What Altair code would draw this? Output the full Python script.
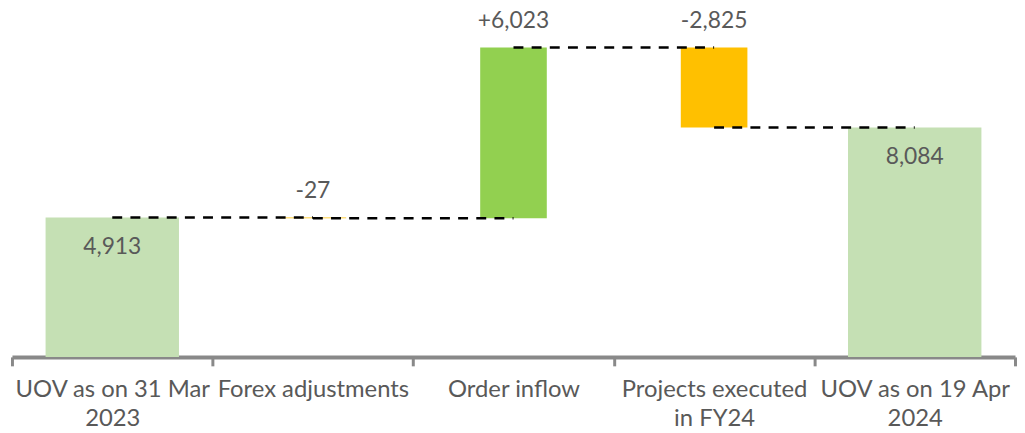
import altair as alt
import pandas as pd

categories = ["UOV as on 31 Mar|2023", "Forex adjustments", "Order inflow",
              "Projects executed|in FY24", "UOV as on 19 Apr|2024"]
values = [4913, -27, 6023, -2825, 8084]
kinds = ["total", "decrease", "increase", "decrease", "total"]
value_labels = ["4,913", "-27", "+6,023", "-2,825", "8,084"]

rows = []
running = 0
for cat, v, k, lab in zip(categories, values, kinds, value_labels):
    if k == "total":
        start, end = 0, v
        running = v
    else:
        start, end = running, running + v
        running = running + v
    rows.append({"cat": cat, "start": start, "end": end, "kind": k,
                 "label": lab, "top": max(start, end)})
df = pd.DataFrame(rows)

conn = pd.DataFrame([
    {"cat": categories[i], "cat2": categories[i + 1], "level": rows[i]["end"]}
    for i in range(len(categories) - 1)
])

FONT = "Lato"
TXT = "#595959"
ymax = 12240

x = alt.X("cat:N", sort=categories, title=None,
          scale=alt.Scale(paddingInner=0, paddingOuter=0),
          axis=alt.Axis(labelExpr="split(datum.label, '|')", labelAngle=0,
                        labelFont=FONT, labelFontSize=24, labelColor=TXT,
                        labelLineHeight=29, labelPadding=12, labelOverlap=False,
                        labelBound=False, labelLimit=400,
                        domainColor="#898989", domainWidth=4,
                        tickColor="#898989", tickWidth=3, tickSize=9,
                        tickBand="extent"))
yscale = alt.Scale(domain=[0, ymax], nice=False, zero=True)

color = alt.Color("kind:N", legend=None,
                  scale=alt.Scale(domain=["total", "increase", "decrease"],
                                  range=["#C5E0B4", "#92D050", "#FFC000"]))

base = alt.Chart(df)

totals = base.transform_filter("datum.kind == 'total'").mark_bar(
    width=alt.RelativeBandSize(0.665)).encode(
    x=x, y=alt.Y("start:Q", scale=yscale, axis=None), y2="end:Q", color=color)

deltas = base.transform_filter("datum.kind != 'total'").mark_bar(
    width=alt.RelativeBandSize(0.332)).encode(
    x=x, y=alt.Y("start:Q", scale=yscale, axis=None), y2="end:Q", color=color)

rules = alt.Chart(conn).mark_rule(color="black", strokeWidth=2.6,
                                  strokeDash=[10, 8.3]).encode(
    x=alt.X("cat:N", sort=categories), x2="cat2:N",
    y=alt.Y("level:Q", scale=yscale, axis=None))

lab_in = base.transform_filter("datum.kind == 'total'").mark_text(
    font=FONT, fontSize=23, color=TXT, baseline="alphabetic", dy=37).encode(
    x=alt.X("cat:N", sort=categories), y=alt.Y("top:Q", scale=yscale, axis=None),
    text="label:N")

lab_out = base.transform_filter("datum.kind != 'total'").mark_text(
    font=FONT, fontSize=23, color=TXT, baseline="alphabetic", dy=-19.5).encode(
    x=alt.X("cat:N", sort=categories), y=alt.Y("top:Q", scale=yscale, axis=None),
    text="label:N")

chart = alt.layer(totals, deltas, rules, lab_in, lab_out).properties(
    width=1011, height=350,
    padding={"left": 2, "right": 0, "top": 0, "bottom": 0},
).configure_view(stroke=None)

chart.save("out.html", embed_options={"renderer": "svg", "actions": False})
